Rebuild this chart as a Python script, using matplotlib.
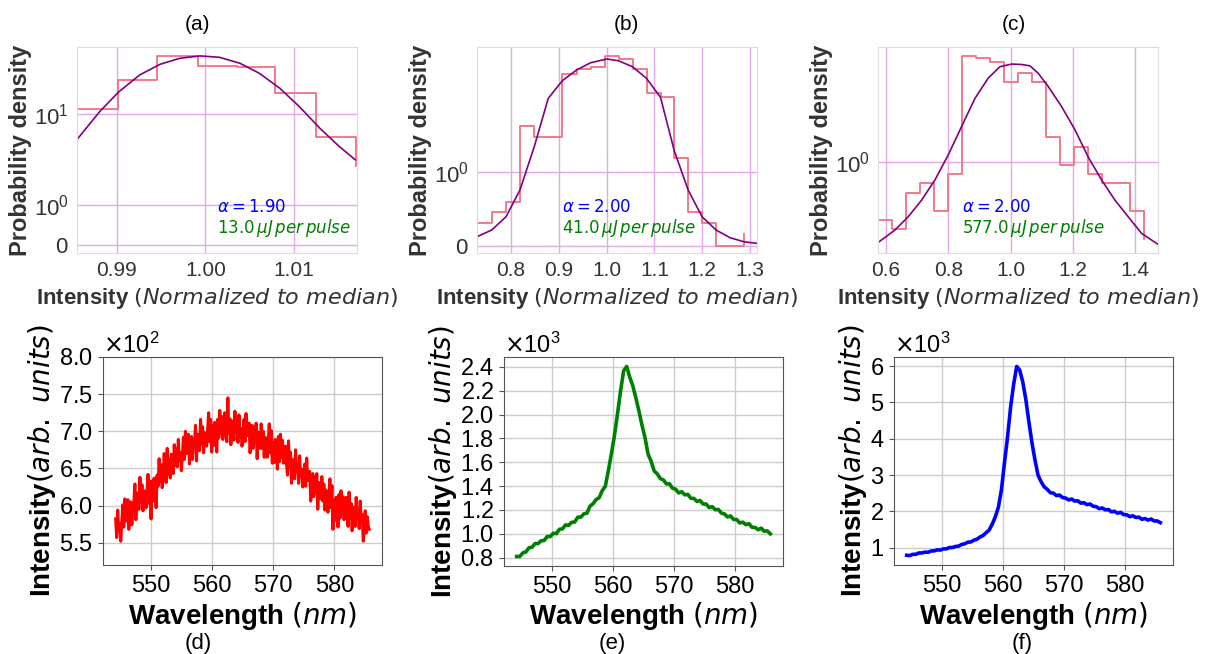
import numpy as np
import matplotlib
matplotlib.use('Agg')
import matplotlib.pyplot as plt

plt.rcParams['font.family'] = ['Liberation Sans', 'DejaVu Sans']
plt.rcParams['mathtext.fontset'] = 'dejavusans'

W, H = 1207, 654

# ---- top row : intensity histograms (symlog y) ----
hist_a_x = [0.9855, 0.9902, 0.9946, 0.9992, 1.0036, 1.0079, 1.0125, 1.0170]
hist_a_y = [11.2, 23.3, 43.7, 33.9, 32.5, 16.9, 5.62, 2.63]
fit_a_x = [0.9855, 0.9881, 0.9902, 0.9926, 0.9949, 0.9971, 0.9994, 1.0016,
           1.0039, 1.0061, 1.0084, 1.0106, 1.0129, 1.0151, 1.0169]
fit_a_y = [5.17, 10.6, 17.3, 26.8, 35.1, 40.8, 43.4, 41.9,
           36.0, 27.9, 19.1, 12.0, 6.95, 4.37, 3.12]

hist_b_x = [0.7289, 0.7597, 0.7896, 0.8188, 0.8487, 0.8779, 0.9072, 0.9373, 0.9665, 0.9958,
            1.0250, 1.0543, 1.0835, 1.1128, 1.1412, 1.1705, 1.1997, 1.2290, 1.2582, 1.2875]
hist_b_y = [0.309, 0.455, 0.600, 1.90, 1.64, 1.64, 3.95, 4.22, 4.35, 5.08,
            4.83, 4.22, 3.02, 2.84, 1.22, 0.455, 0.309, 0.0, 0.0, 0.155]
fit_b_x = [0.7289, 0.7597, 0.7896, 0.8188, 0.8487, 0.8779, 0.9072, 0.9373, 0.9665, 1.0006, 1.0250,
           1.0543, 1.0835, 1.1128, 1.1412, 1.1705, 1.1997, 1.2290, 1.2582, 1.2875, 1.3134]
fit_b_y = [0.123, 0.214, 0.395, 0.759, 1.43, 2.80, 3.58, 4.16, 4.60, 4.85, 4.73,
           4.35, 3.70, 2.84, 1.36, 0.759, 0.395, 0.214, 0.109, 0.054, 0.033]

hist_c_x = [0.5743, 0.6202, 0.6652, 0.7101, 0.7551, 0.8000, 0.8450, 0.8899, 0.9349, 0.9798,
            1.0248, 1.0697, 1.1147, 1.1596, 1.2046, 1.2495, 1.2945, 1.3394, 1.3844, 1.4293]
hist_c_y = [0.477, 0.396, 0.726, 0.811, 0.561, 0.892, 2.67, 2.61, 2.51, 2.10,
            2.28, 2.10, 1.26, 0.976, 1.15, 0.892, 0.811, 0.811, 0.561, 0.309]
fit_c_x = [0.5753, 0.6289, 0.6716, 0.7146, 0.7573, 0.8000, 0.8430, 0.8857, 0.9284, 0.9660, 1.0035, 1.0356,
           1.0623, 1.0889, 1.1210, 1.1640, 1.2067, 1.2494, 1.2925, 1.3352, 1.3778, 1.4209, 1.4722]
fit_c_y = [0.279, 0.390, 0.510, 0.660, 0.841, 1.07, 1.39, 1.80, 2.17, 2.41, 2.47, 2.46,
           2.43, 2.27, 2.01, 1.67, 1.35, 1.05, 0.841, 0.660, 0.510, 0.360, 0.264]

alphas = ['1.90', '2.00', '2.00']
energies = ['13.0', '41.0', '577.0']
top_xticks = [[0.99, 1.00, 1.01], [0.8, 0.9, 1.0, 1.1, 1.2, 1.3], [0.6, 0.8, 1.0, 1.2, 1.4]]
top_xlabels = [['0.99', '1.00', '1.01'], ['0.8', '0.9', '1.0', '1.1', '1.2', '1.3'],
               ['0.6', '0.8', '1.0', '1.2', '1.4']]
top_yticks = [[0, 1, 10], [0, 1], [1]]
top_xlim = [(0.98553, 1.0171), (0.7289, 1.3146), (0.5743, 1.4738)]
top_ylim = [(-0.198, 54.4), (-0.099, 5.73), (0.183, 2.89)]

# ---- bottom row : spectra (counts) ----
spec_d = [582, 557, 594, 566, 576, 552, 575, 601, 571, 609, 579, 590,
          608, 568, 594, 605, 574, 601, 604, 629, 581, 617, 609, 595,
          638, 605, 628, 593, 620, 612, 597, 619, 642, 603, 633, 582,
          633, 606, 637, 629, 597, 641, 626, 663, 632, 655, 624, 639,
          670, 647, 631, 677, 642, 662, 637, 669, 665, 643, 682, 654,
          677, 652, 689, 661, 671, 647, 666, 692, 662, 700, 670, 681,
          696, 656, 682, 693, 662, 689, 683, 708, 660, 696, 688, 674,
          716, 683, 706, 671, 698, 690, 680, 702, 725, 686, 716, 672,
          708, 681, 712, 704, 672, 716, 691, 728, 697, 720, 689, 704,
          725, 702, 686, 745, 697, 717, 682, 714, 710, 688, 727, 699,
          710, 685, 722, 694, 704, 680, 690, 716, 686, 724, 694, 705,
          711, 671, 697, 708, 677, 704, 686, 711, 663, 699, 691, 677,
          710, 677, 700, 665, 692, 684, 665, 687, 710, 671, 701, 657,
          685, 658, 689, 681, 649, 693, 659, 696, 665, 688, 657, 672,
          680, 657, 641, 687, 652, 672, 630, 662, 658, 636, 675, 647,
          655, 630, 667, 639, 649, 625, 630, 656, 626, 664, 634, 645,
          646, 606, 632, 643, 612, 639, 618, 643, 595, 631, 623, 609,
          639, 606, 629, 594, 621, 613, 591, 613, 636, 597, 627, 568,
          607, 580, 611, 603, 571, 615, 583, 620, 589, 612, 581, 596,
          611, 588, 572, 618, 583, 603, 566, 598, 594, 572, 611, 583,
          594, 569, 606, 578, 588, 552, 567, 593, 563, 585, 571, 568]
spec_e = [810, 810, 840, 848, 883, 887, 918, 918, 942, 944,
          978, 977, 1005, 1002, 1038, 1042, 1075, 1071, 1097, 1099,
          1140, 1140, 1168, 1173, 1233, 1252, 1288, 1303, 1362, 1399,
          1530, 1672, 1825, 2008, 2198, 2367, 2403, 2313, 2242, 2139,
          2030, 1912, 1805, 1668, 1608, 1527, 1503, 1463, 1452, 1419,
          1420, 1382, 1375, 1343, 1353, 1327, 1331, 1298, 1297, 1271,
          1280, 1250, 1250, 1220, 1228, 1202, 1205, 1173, 1167, 1141,
          1150, 1120, 1120, 1091, 1098, 1077, 1085, 1055, 1054, 1034,
          1048, 1022, 1025, 1000]
spec_f = [790, 783, 816, 817, 854, 855, 878, 872, 909, 911,
          940, 933, 966, 967, 1004, 1005, 1033, 1042, 1089, 1106,
          1150, 1158, 1206, 1232, 1294, 1335, 1413, 1487, 1649, 1846,
          2110, 2588, 3336, 4042, 4864, 5495, 5990, 5887, 5559, 5076,
          4460, 3888, 3406, 2992, 2814, 2675, 2606, 2514, 2502, 2434,
          2448, 2380, 2366, 2314, 2338, 2282, 2290, 2226, 2237, 2184,
          2203, 2140, 2131, 2074, 2093, 2042, 2050, 1986, 2002, 1949,
          1973, 1910, 1906, 1854, 1878, 1832, 1840, 1781, 1802, 1759,
          1788, 1735, 1736, 1689]
wl_range = [(544.3, 585.7), (544.3, 585.8), (544.3, 585.8)]
spec_colors = ['red', 'green', 'blue']
bot_yticks = [[550, 600, 650, 700, 750, 800],
              [800, 1000, 1200, 1400, 1600, 1800, 2000, 2200, 2400],
              [1000, 2000, 3000, 4000, 5000, 6000]]
wl_ticks = [550, 560, 570, 580]

fig = plt.figure(figsize=(W / 100, H / 100), dpi=100)


def px_axes(l, t, r, b):
    return fig.add_axes([l / W, 1 - b / H, (r - l) / W, (b - t) / H])


top_boxes = [(77, 47, 357, 253), (477, 47, 757, 253), (878, 47, 1158, 253)]
hists = [(hist_a_x, hist_a_y), (hist_b_x, hist_b_y), (hist_c_x, hist_c_y)]
fits = [(fit_a_x, fit_a_y), (fit_b_x, fit_b_y), (fit_c_x, fit_c_y)]
text_x = [0.50, 0.305, 0.30]

for i in range(3):
    ax = px_axes(*top_boxes[i])
    ax.set_yscale('symlog', linthresh=1, linscale=0.4)
    ax.grid(True, color='#e2a8e8', lw=1.0)
    ax.set_axisbelow(True)
    ax.step(hists[i][0], hists[i][1], where='post', color='#f5707f', lw=1.3)
    ax.plot(fits[i][0], fits[i][1], color='#800080', lw=1.2)
    ax.set_xlim(*top_xlim[i])
    ax.set_ylim(*top_ylim[i])
    ax.set_xticks(top_xticks[i], top_xlabels[i])
    ax.set_yticks(top_yticks[i])
    ax.minorticks_off()
    ax.tick_params(length=0, labelsize=15, colors='#333333', pad=6)
    ax.tick_params(axis='y', labelsize=16)
    for s in ax.spines.values():
        s.set_color('#dcdcdc')
    ax.set_ylabel('Probability density', fontsize=17, fontweight='bold', color='#333333', labelpad=1)
    ax.set_xlabel(r'Intensity $(Normalized\ to\ median)$', fontsize=16, fontweight='bold',
                  color='#333333', labelpad=4)
    ax.text(text_x[i], 0.225, r'$\alpha = %s$' % alphas[i], color='blue', fontsize=12,
            transform=ax.transAxes, va='center')
    ax.text(text_x[i], 0.12, r'$%s\,\mu J\,per\,pulse$' % energies[i], color='green', fontsize=12,
            transform=ax.transAxes, va='center')

for lab, x in zip(['(a)', '(b)', '(c)'], [198, 626, 1014]):
    fig.text(x / W, 1 - 24 / H, lab, fontsize=15, ha='center', va='center')

bot_boxes = [(103, 357, 382, 565), (504, 357, 783, 566), (894, 357, 1173, 565)]
specs = [spec_d, spec_e, spec_f]
line_w = [2.2, 2.6, 2.6]
for i in range(3):
    ax = px_axes(*bot_boxes[i])
    wl = np.linspace(wl_range[i][0], wl_range[i][1], len(specs[i]))
    ax.plot(wl, specs[i], color=spec_colors[i], lw=line_w[i])
    ax.grid(True, color='#cccccc', lw=1.0)
    ax.set_axisbelow(True)
    ax.set_xticks(wl_ticks)
    ax.set_yticks(bot_yticks[i])
    if i == 0:
        ax.set_ylim(520, 800)
    ax.ticklabel_format(axis='y', style='sci', scilimits=(0, 0), useMathText=True)
    ax.yaxis.get_offset_text().set_fontsize(17)
    ax.tick_params(labelsize=17, length=3.5, color='#555555')
    for s in ax.spines.values():
        s.set_color('#555555')
    ax.set_xlabel(r'Wavelength $(nm)$', fontsize=20, fontweight='bold', labelpad=2)
    ax.set_ylabel(r'Intensity$(arb.\ units)$', fontsize=20, fontweight='bold', labelpad=1)

for lab, x in zip(['(d)', '(e)', '(f)'], [198, 612, 1022]):
    fig.text(x / W, 1 - 644 / H, lab, fontsize=16, ha='center', va='center')

fig.savefig('out.png', dpi=100)
